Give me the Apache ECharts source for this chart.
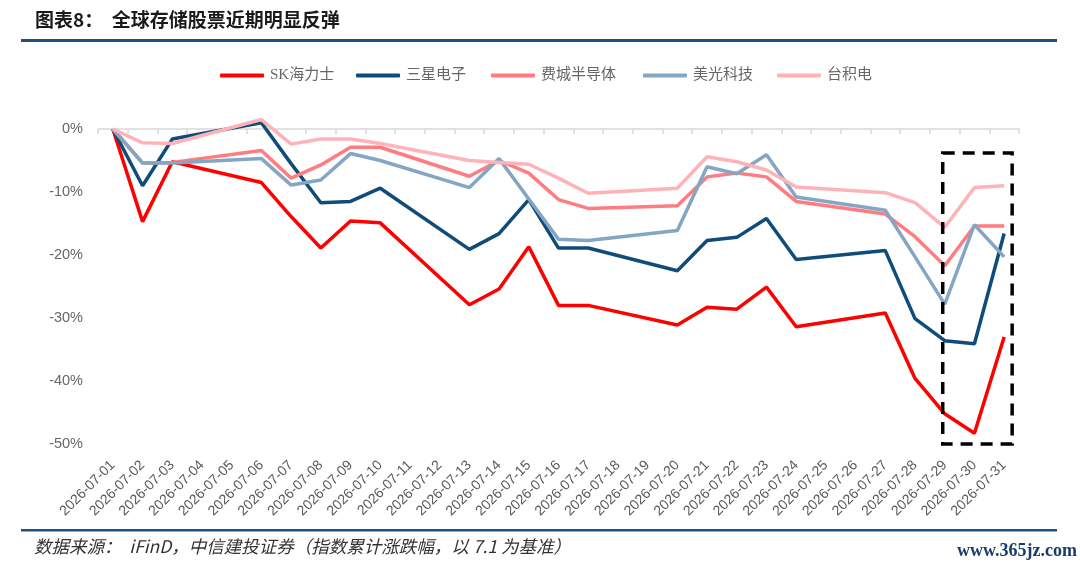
<!DOCTYPE html>
<html>
<head>
<meta charset="utf-8">
<script src="https://cdn.jsdelivr.net/npm/echarts@6/dist/echarts.min.js"></script>
<style>
  html, body { margin: 0; padding: 0; background: #fff; }
  #main { width: 1080px; height: 572px; }
</style>
</head>
<body>
<div id="main"></div>
<script>
// 日期（周末无数据，用 null 占位，连线跨过）
const dates = [];
for (let d = 1; d <= 31; d++) dates.push('2026-07-' + (d < 10 ? '0' + d : d));

const skHynix = [0, -14.7, -5.2, null, null, -8.5, -13.9, -18.9, -14.6, -14.9, null, null, -27.9, -25.4, -18.7, -28.0, -28.0, null, null, -31.1, -28.3, -28.6, -25.1, -31.4, null, null, -29.2, -39.6, -45.2, -48.3, -33.0];
const samsung = [0, -9.0, -1.6, null, null, 1.0, -5.5, -11.7, -11.5, -9.4, null, null, -19.1, -16.6, -11.2, -18.9, -18.9, null, null, -22.5, -17.7, -17.2, -14.2, -20.7, null, null, -19.3, -30.1, -33.6, -34.1, -16.6];
const sox = [0, -5.4, -5.3, null, null, -3.4, -7.8, -5.7, -2.9, -2.9, null, null, -7.5, -5.0, -7.0, -11.2, -12.6, null, null, -12.2, -7.6, -7.0, -7.6, -11.5, null, null, -13.5, -17.1, -21.7, -15.4, -15.4];
const micron = [0, -5.4, -5.4, null, null, -4.7, -8.9, -8.1, -3.9, -5.0, null, null, -9.3, -4.7, -11.1, -17.5, -17.7, null, null, -16.1, -6.0, -7.1, -4.1, -10.8, null, null, -12.9, -20.3, -27.8, -15.2, -20.3];
const tsmc = [0, -2.2, -2.3, null, null, 1.5, -2.4, -1.6, -1.6, -2.3, null, null, -5.0, -5.3, -5.6, -7.8, -10.2, null, null, -9.4, -4.4, -5.2, -6.5, -9.2, null, null, -10.1, -11.7, -15.6, -9.3, -9.0];

const names = ['SK海力士', '三星电子', '费城半导体', '美光科技', '台积电'];
const values = [skHynix, samsung, sox, micron, tsmc];
const colors = ['#ff0000', '#0f4c7a', '#ff7c80', '#84a6c2', '#ffb3b8'];
const legendLeft = [215, 351, 486, 638, 772];

const yTicks = { min: -50, max: 0, interval: 10 };

const chart = echarts.init(document.getElementById('main'));

const series = names.map((name, i) => ({
  name,
  type: 'line',
  xAxisIndex: 0,
  data: values[i],
  connectNulls: true,
  showSymbol: false,
  symbol: 'none',
  clip: false,
  lineStyle: { color: colors[i], width: 3.5 },
  itemStyle: { color: colors[i] }
}));

// 每个图例单独摆放
const legends = names.map((name, i) => ({
  left: legendLeft[i],
  top: 63,
  icon: 'roundRect',
  itemWidth: 44,
  itemHeight: 4,
  itemGap: 0,
  data: [name],
  textStyle: { color: '#666', fontSize: 15, fontFamily: 'Liberation Serif, Noto Sans CJK SC', padding: [0, 0, 0, 1] }
}));

const option = {
  animation: false,
  textStyle: { fontFamily: 'Liberation Sans, Noto Sans CJK SC' },
  legend: legends,
  grid: { left: 98, right: 61, top: 129, bottom: 128, containLabel: false },
  xAxis: [
    {
      type: 'category',
      data: dates,
      position: 'bottom',
      boundaryGap: true,
      axisLine: { show: false, onZero: false },
      axisTick: { show: false },
      axisLabel: { interval: 0, rotate: 45, margin: 19, fontSize: 14, color: '#595959' }
    },
    {
      type: 'category',
      data: dates,
      position: 'bottom',
      boundaryGap: true,
      axisLine: { show: true, onZero: true, lineStyle: { color: '#d9d9d9', width: 1.5 } },
      axisTick: { show: true, interval: 0, length: 5, lineStyle: { color: '#d9d9d9', width: 1.5 } },
      axisLabel: { show: false }
    }
  ],
  yAxis: {
    type: 'value',
    min: yTicks.min,
    max: yTicks.max,
    interval: yTicks.interval,
    axisLine: { show: false },
    axisTick: { show: false },
    splitLine: { show: false },
    axisLabel: { formatter: v => v + '%', color: '#666', fontSize: 14.5, margin: 15 }
  },
  graphic: [
    {
      type: 'text', left: 35, top: 10,
      style: { text: '图表8：  全球存储股票近期明显反弹', fontSize: 19, fontWeight: 'bold', fill: '#1a1a1a', fontFamily: 'Noto Sans CJK SC' }
    },
    { type: 'rect', shape: { x: 21, y: 39, width: 1036, height: 3 }, style: { fill: '#1c5281' } },
    { type: 'rect', shape: { x: 21, y: 529, width: 1036, height: 2.5 }, style: { fill: '#1c5281' } },
    {
      type: 'text', left: 34, top: 538,
      style: { text: '数据来源：  iFinD，中信建投证券（指数累计涨跌幅，以 7.1 为基准）', fontSize: 17.5, fontStyle: 'italic', fill: '#333', fontFamily: 'Noto Sans CJK SC' }
    },
    {
      type: 'text', left: 957, top: 542,
      style: { text: 'www.365jz.com', fontSize: 18, fontWeight: 'bold', fill: '#1a3d6e', fontFamily: 'Liberation Serif' }
    }
  ],
  series
};

chart.setOption(option);

// 虚线框：以数据坐标换算位置
const p1 = chart.convertToPixel({ xAxisIndex: 0, yAxisIndex: 0 }, ['2026-07-29', -3.8]);
const p2 = chart.convertToPixel({ xAxisIndex: 0, yAxisIndex: 0 }, ['2026-07-31', -50]);
chart.setOption({
  graphic: [{
    id: 'box',
    type: 'rect',
    z: 100,
    shape: { x: p1[0] - 2, y: p1[1], width: p2[0] + 8 - (p1[0] - 2), height: p2[1] - p1[1] },
    style: { fill: 'none', stroke: '#000', lineWidth: 3.5, lineDash: [12, 8] }
  }]
});
</script>
</body>
</html>
